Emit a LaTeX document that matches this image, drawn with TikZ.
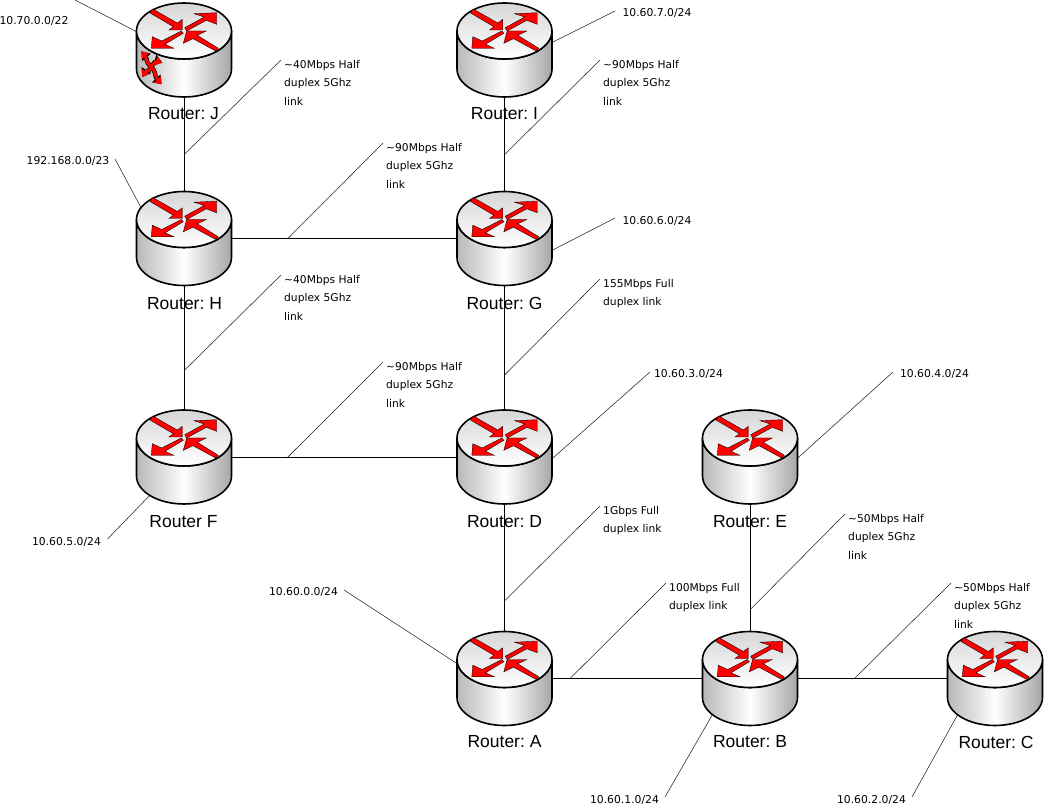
\documentclass[tikz,border=0pt]{standalone}
\usepackage{fontspec}
\setmainfont{Liberation Sans}
\newfontfamily\notefont{DejaVu Sans}
\usetikzlibrary{calc,arrows.meta}

\definecolor{arrowred}{RGB}{255,0,0}

\tikzset{
  routerbox/.style={rectangle,minimum width=95pt,minimum height=94pt,inner sep=0pt,outer sep=0pt},
  routername/.style={font=\fontsize{17.5}{20}\selectfont\frenchspacing,inner sep=0pt},
  link/.style={line width=0.9pt,black},
  leader/.style={line width=0.55pt,black!85},
  note/.style={font=\notefont\fontsize{10.7}{18.6}\selectfont,align=left,anchor=north west,inner xsep=3pt,inner ysep=0pt},
  subnet/.style={font=\notefont\fontsize{10.8}{12}\selectfont,inner sep=1pt},
  flow/.style={fill=arrowred,draw=black,line width=0.35pt,line join=miter},
  crossback/.style={black,line width=4.4pt,{Triangle[length=8pt,width=11pt]}-{Triangle[length=8pt,width=11pt]}},
  crossfront/.style={arrowred,line width=3pt,{Triangle[length=6.5pt,width=9pt]}-{Triangle[length=6.5pt,width=9pt]}},
  router/.pic={
    \shade[left color=black!28,right color=black!35,middle color=white,draw=black,line width=1.6pt]
      (-47.5,-19) -- (-47.5,19) arc (180:0:47.5 and 28) -- (47.5,-19) arc (0:180:47.5 and 28) -- cycle;
    \shade[top color=black!16,bottom color=white,draw=black,line width=1.6pt]
      (0,-19) ellipse [x radius=47.5,y radius=28];
    \begin{scope}[shift={(0,-19)}]
      \draw[flow] (-31.3,-22) -- (-6.7,-8) -- (-1.7,-11.7) -- (-1.7,-1) -- (-15,-1) -- (-10.7,-4.3) -- (-34,-18) -- cycle;
      \draw[flow] (0.7,-3.3) -- (20.3,-14) -- (10,-17.3) -- (32.7,-18.3) -- (32.7,-6.7) -- (22.3,-10.7) -- (2.7,0) -- cycle;
      \draw[flow] (-2.7,0) -- (-22.3,10) -- (-31.7,5.7) -- (-32.7,17.3) -- (-10,17.3) -- (-19,13.3) -- (-0.7,2.3) -- cycle;
      \draw[flow] (2.7,0) -- (22.3,0) -- (13.3,4.3) -- (34.3,17.3) -- (31.7,20) -- (9,7.7) -- (-0.7,12.3) -- cycle;
    \end{scope}
  },
  crossmark/.pic={
    \foreach \s in {crossback,crossfront} {
      \draw[\s] (-42.7,1.3) .. controls (-37,8) and (-39,12) .. (-32.7,17) .. controls (-28,21) and (-29,27) .. (-22.3,34.3);
      \draw[\s] (-21.7,12.7) .. controls (-27,11) and (-31,13) .. (-32.7,17) .. controls (-34,21) and (-38,21) .. (-41.7,27);
    }
  }
}

\begin{document}
\begin{tikzpicture}[x=1pt,y=-1pt]
  \useasboundingbox (0,0) rectangle (1045,810);

  % routers
  \node[routerbox] (J) at (184,50) {};
  \node[routerbox] (I) at (504.5,50) {};
  \node[routerbox] (H) at (184,238.5) {};
  \node[routerbox] (G) at (504.5,238.5) {};
  \node[routerbox] (F) at (184,457) {};
  \node[routerbox] (D) at (504.5,457) {};
  \node[routerbox] (E) at (750,457) {};
  \node[routerbox] (A) at (504.5,678.5) {};
  \node[routerbox] (B) at (750,678.5) {};
  \node[routerbox] (C) at (995,678.5) {};

  % links
  \draw[link] (J) -- (H) coordinate[pos=0.61] (jh);
  \draw[link] (H) -- (G) coordinate[pos=0.25] (hg);
  \draw[link] (I) -- (G) coordinate[pos=0.61] (ig);
  \draw[link] (H) -- (F) coordinate[pos=0.685] (hf);
  \draw[link] (F) -- (D) coordinate[pos=0.25] (fd);
  \draw[link] (G) -- (D) coordinate[pos=0.72] (gd);
  \draw[link] (D) -- (A) coordinate[pos=0.76] (da);
  \draw[link] (A) -- (B) coordinate[pos=0.12] (ab);
  \draw[link] (E) -- (B) coordinate[pos=0.83] (eb);
  \draw[link] (B) -- (C) coordinate[pos=0.38] (bc);

  % speed notes
  \node[note] (tjh) at (281,60) {\textasciitilde40Mbps Half\\duplex 5Ghz\\link};
  \node[note] (thg) at (383,143) {\textasciitilde90Mbps Half\\duplex 5Ghz\\link};
  \node[note] (tig) at (600,60) {\textasciitilde90Mbps Half\\duplex 5Ghz\\link};
  \node[note] (thf) at (281,275) {\textasciitilde40Mbps Half\\duplex 5Ghz\\link};
  \node[note] (tfd) at (383,362) {\textasciitilde90Mbps Half\\duplex 5Ghz\\link};
  \node[note] (tgd) at (600,279) {155Mbps Full\\duplex link};
  \node[note] (tda) at (600,506) {1Gbps Full\\duplex link};
  \node[note] (tab) at (666,583) {100Mbps Full\\duplex link};
  \node[note] (teb) at (845,514) {\textasciitilde50Mbps Half\\duplex 5Ghz\\link};
  \node[note] (tbc) at (951,583) {\textasciitilde50Mbps Half\\duplex 5Ghz\\link};

  \draw[leader] (tjh.north west) -- (jh);
  \draw[leader] (thg.north west) -- (hg);
  \draw[leader] (tig.north west) -- (ig);
  \draw[leader] (thf.north west) -- (hf);
  \draw[leader] (tfd.north west) -- (fd);
  \draw[leader] (tgd.north west) -- (gd);
  \draw[leader] (tda.north west) -- (da);
  \draw[leader] (tab.north west) -- (ab);
  \draw[leader] (teb.north west) -- (eb);
  \draw[leader] (tbc.north west) -- (bc);

  % subnets
  \node[subnet] (nj) at (34,21) {10.70.0.0/22};
  \node[subnet] (nh) at (68,161) {192.168.0.0/23};
  \node[subnet] (ni) at (657,13) {10.60.7.0/24};
  \node[subnet] (ng) at (657,221) {10.60.6.0/24};
  \node[subnet] (nd) at (688.5,374) {10.60.3.0/24};
  \node[subnet] (ne) at (934.5,374) {10.60.4.0/24};
  \node[subnet] (nf) at (66.5,542) {10.60.5.0/24};
  \node[subnet] (na) at (303.5,592) {10.60.0.0/24};
  \node[subnet] (nb) at (624.5,800) {10.60.1.0/24};
  \node[subnet] (nc) at (871.5,800) {10.60.2.0/24};

  \coordinate (jtop) at (75,0);
  \coordinate (htop) at (115,159);
  \coordinate (itop) at (615,11);
  \coordinate (gtop) at (615,218);
  \coordinate (dtop) at (650,372);
  \coordinate (etop) at (893,372);
  \coordinate (ftop) at (107.5,539);
  \coordinate (atop) at (344,590);
  \coordinate (btop) at (665,797);
  \coordinate (ctop) at (912,797);

  \coordinate (jnet) at (145,36);
  \coordinate (hnet) at (145,215);
  \coordinate (inet) at (545,46);
  \coordinate (gnet) at (545,254);
  \coordinate (dnet) at (545,465);
  \coordinate (enet) at (790,465);
  \coordinate (fnet) at (155,490);
  \coordinate (anet) at (470,672);
  \coordinate (bnet) at (718,705);
  \coordinate (cnet) at (963,705);

  \draw[leader] (jtop) -- (jnet);
  \draw[leader] (htop) -- (hnet);
  \draw[leader] (itop) -- (inet);
  \draw[leader] (gtop) -- (gnet);
  \draw[leader] (dtop) -- (dnet);
  \draw[leader] (etop) -- (enet);
  \draw[leader] (ftop) -- (fnet);
  \draw[leader] (atop) -- (anet);
  \draw[leader] (btop) -- (bnet);
  \draw[leader] (ctop) -- (cnet);

  % cylinders on top of the line ends
  \foreach \r in {J,I,H,G,F,D,E,A,B,C}
    \pic at (\r) {router};
  \pic at (J) {crossmark};

  % names
  \node[routername] (lj) at (183.5,114) {Router: J};
  \node[routername] (li) at (504.5,114) {Router: I};
  \node[routername] (lh) at (184.5,304) {Router: H};
  \node[routername] (lg) at (504.5,303) {Router: G};
  \node[routername] (lf) at (183.5,522) {Router F};
  \node[routername] (ld) at (504.5,522) {Router: D};
  \node[routername] (le) at (750,522) {Router: E};
  \node[routername] (la) at (504.5,742) {Router: A};
  \node[routername] (lb) at (750,742) {Router: B};
  \node[routername] (lc) at (996,742) {Router: C};
\end{tikzpicture}
\end{document}
